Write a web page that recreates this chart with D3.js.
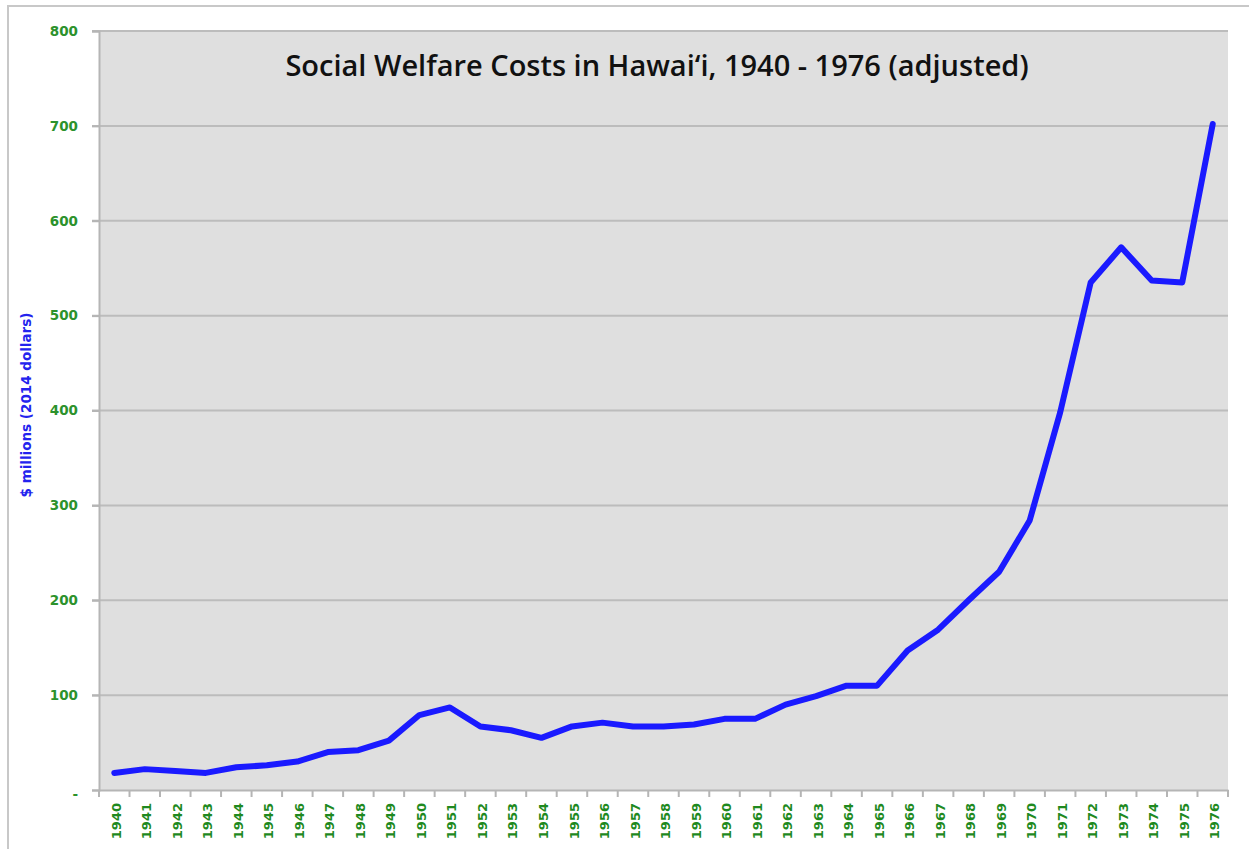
<!DOCTYPE html>
<html>
<head>
<meta charset="utf-8">
<script src="https://cdn.jsdelivr.net/npm/d3@7"></script>
<style>
  body { margin: 0; background: #fff; }
  svg { display: block; }
</style>
</head>
<body>
<div id="chart"></div>
<script>
(function(){

  // Data
  let years = d3.range(1940, 1977).map(String)
  let costs = [18, 22, 20, 18, 24, 26, 30, 40, 42, 52,
               79, 87, 67, 63, 55, 67, 71, 67, 67, 69,
               75, 75, 90, 99, 110, 110, 147, 169, 200, 230,
               284, 398, 535, 572, 537, 535, 702]
  let yTicks = [0, 100, 200, 300, 400, 500, 600, 700, 800]

  let margin = { top: 31, left: 99, right: 21, bottom: 59 }
  let width = 1249 - margin.left - margin.right
  let height = 849 - margin.top - margin.bottom

  let svg = d3.select('#chart')
    .append('svg')
    .attr('width', 1249)
    .attr('height', 849)

  // outer frame
  svg.append('rect')
    .attr('x', 8).attr('y', 6)
    .attr('width', 1260).attr('height', 860)
    .attr('fill', 'none')
    .attr('stroke', '#c8c8c8')
    .attr('stroke-width', 2)

  let g = svg.append('g')
    .attr('transform', 'translate(' + margin.left + ',' + margin.top + ')')

  // Scales
  let xScale = d3.scaleBand().domain(years).range([0, width])
  let yScale = d3.scaleLinear().domain([0, 800]).range([height, 0])

  g.append('rect')
    .attr('width', width)
    .attr('height', height)
    .attr('fill', '#dfdfdf')

  // gridlines
  g.selectAll('.grid')
    .data(yTicks.slice(1))
    .enter().append('line')
    .attr('class', 'grid')
    .attr('x1', -7)
    .attr('x2', width)
    .attr('y1', d => yScale(d))
    .attr('y2', d => yScale(d))
    .attr('stroke', '#bcbcbc')
    .attr('stroke-width', 2)

  // y axis
  let yAxis = d3.axisLeft(yScale)
    .tickValues(yTicks)
    .tickSize(7)
    .tickFormat(d => d === 0 ? '-' : d)
  let yG = g.append('g').call(yAxis)
  yG.select('.domain').attr('stroke', '#b5b5b5').attr('stroke-width', 2)
  yG.selectAll('.tick line').attr('stroke', '#b5b5b5').attr('stroke-width', 2)
  yG.selectAll('.tick text')
    .attr('x', -21)
    .attr('fill', '#2c922c')
    .style('font-family', 'DejaVu Sans')
    .style('font-weight', 'bold')
    .style('font-size', '13.5px')
  yG.selectAll('.tick text').filter(d => d === 0).attr('dy', '0.6em')

  // x axis
  let xAxis = d3.axisBottom(xScale).tickSize(0).tickPadding(0)
  let xG = g.append('g')
    .attr('transform', 'translate(0,' + height + ')')
    .call(xAxis)
  xG.select('.domain').attr('stroke', '#b5b5b5').attr('stroke-width', 2)
  xG.selectAll('.tick text')
    .attr('transform', 'rotate(-90)')
    .attr('x', -13)
    .attr('y', 2)
    .attr('dy', '0.35em')
    .attr('text-anchor', 'end')
    .attr('fill', '#1f8a1f')
    .style('font-family', 'DejaVu Sans')
    .style('font-weight', 'bold')
    .style('font-size', '13px')

  // separator ticks between categories
  g.selectAll('.xsep')
    .data(years.concat(['end']))
    .enter().append('line')
    .attr('x1', (d, i) => i * xScale.bandwidth())
    .attr('x2', (d, i) => i * xScale.bandwidth())
    .attr('y1', height)
    .attr('y2', height + 7)
    .attr('stroke', '#b5b5b5')
    .attr('stroke-width', 2)

  // line
  let line = d3.line()
    .x((d, i) => xScale(years[i]) + xScale.bandwidth() / 2)
    .y(d => yScale(d))

  g.append('path')
    .datum(costs)
    .attr('d', line)
    .attr('fill', 'none')
    .attr('stroke', '#1a1aff')
    .attr('stroke-width', 6)
    .attr('stroke-linejoin', 'round')
    .attr('stroke-linecap', 'round')

  // title
  svg.append('text')
    .attr('x', 657)
    .attr('y', 76)
    .attr('text-anchor', 'middle')
    .attr('fill', '#111')
    .style('font-family', 'Open Sans')
    .style('font-weight', '600')
    .style('font-size', '29px')
    .text('Social Welfare Costs in Hawai\u2018i, 1940 - 1976 (adjusted)')

  // y label
  svg.append('text')
    .attr('transform', 'translate(31,405) rotate(-90)')
    .attr('text-anchor', 'middle')
    .attr('fill', '#2323ee')
    .style('font-family', 'DejaVu Sans')
    .style('font-weight', 'bold')
    .style('font-size', '13.5px')
    .text('$ millions (2014 dollars)')

})()
</script>
</body>
</html>
